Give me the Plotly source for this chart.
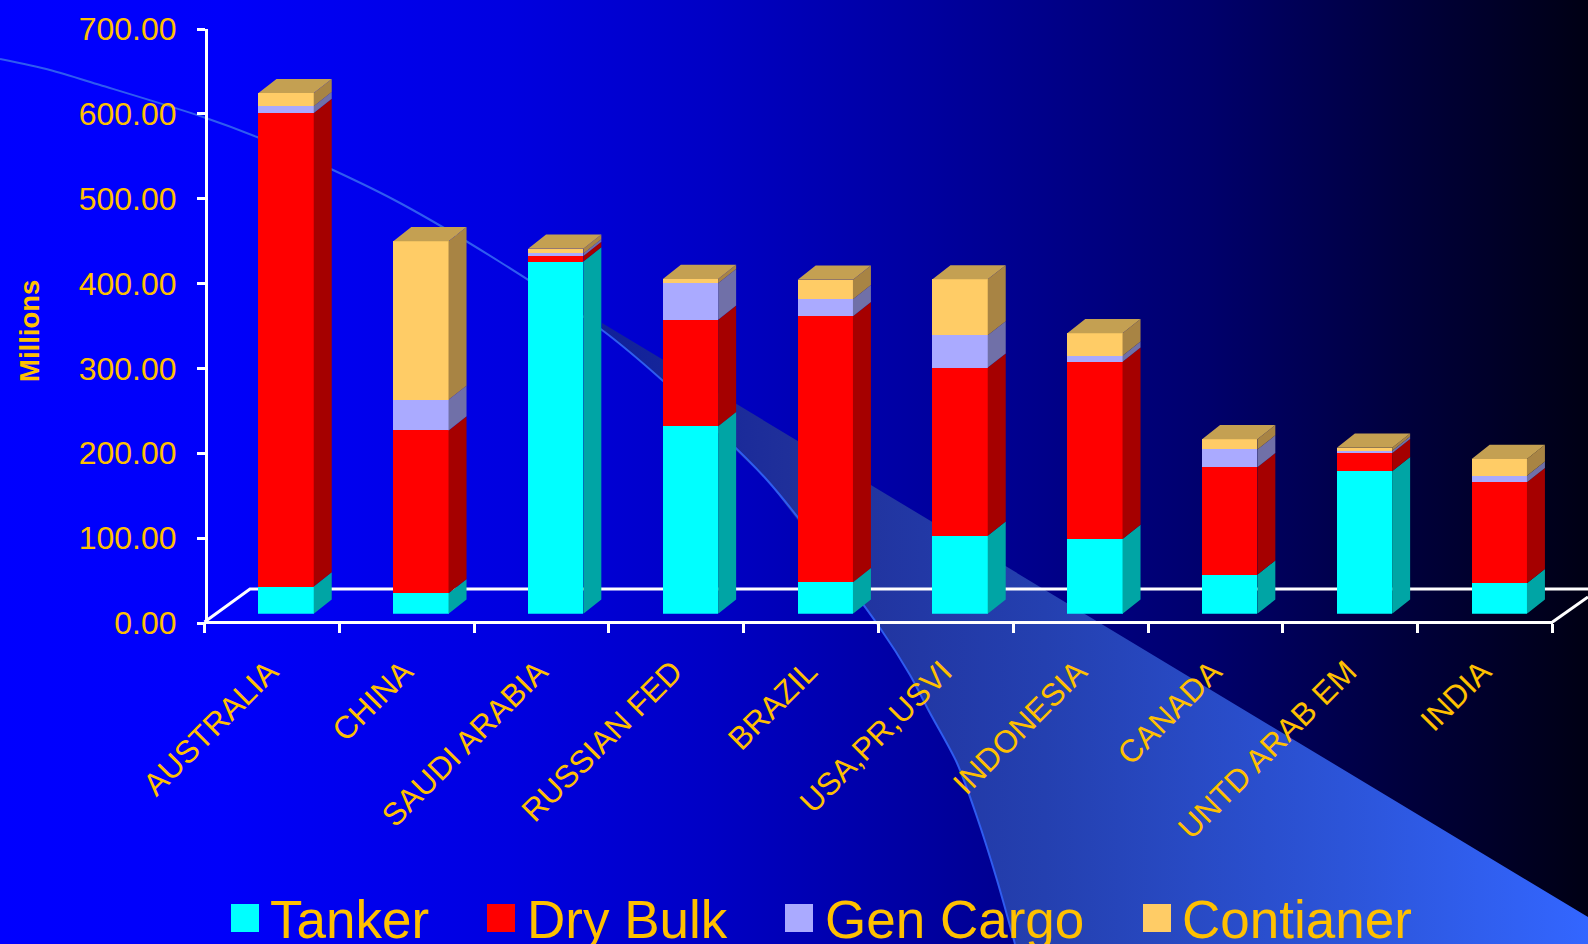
import plotly.graph_objects as go

W, H = 1588, 944

# ---- data (millions) ----
countries = ["AUSTRALIA", "CHINA", "SAUDI ARABIA", "RUSSIAN FED", "BRAZIL",
             "USA,PR,USVI", "INDONESIA", "CANADA", "UNTD ARAB EM", "INDIA"]
tanker = [32, 24, 415, 221, 37, 92, 88, 46, 168, 36]
dry_bulk = [558, 192, 6.5, 125.5, 313.5, 198, 209, 126.5, 21, 119]
gen_cargo = [8, 36, 3, 43, 20, 38, 7, 21, 3, 7.6]
contianer = [15.5, 187, 5.5, 5, 23, 66, 26.5, 12, 3.6, 19.7]
series_names = ["Tanker", "Dry Bulk", "Gen Cargo", "Contianer"]
series_values = [tanker, dry_bulk, gen_cargo, contianer]
front_colors = ["#00FFFF", "#FF0000", "#AAAAFF", "#FFCC66"]
side_colors = ["#00A5A5", "#A50000", "#7070A8", "#A88444"]
top_color = "#C4A052"
gold = "#FFC000"
font_family = "Liberation Sans, Arial, sans-serif"

# ---- page-space decoration (background sweep) ----
sweep_x = [0, 50, 100, 203, 257, 333, 400, 500, 602, 662, 767, 880, 910, 930, 957, 977, 997, 1015]
sweep_y = [59, 70, 85, 117, 137, 170, 203, 262, 330, 380, 480, 628, 675, 713, 763, 817, 880, 944]
legend_swatch_x = [231, 487, 785, 1143]
legend_text_x = [270, 527, 825, 1182]

# ---- plot geometry in pixels ----
AX_L, AX_R, AX_TOP, AX_BOT = 204.5, 1552.5, 29, 623
SHIFT_X, SHIFT_Y = 14.2, 9.3
BAR_W = 0.41
DEPTH_PX_X, DEPTH_PX_Y = 18, 14.2
cat_px = (AX_R - AX_L) / len(countries)
val_px = (AX_BOT - AX_TOP) / 700
dx = DEPTH_PX_X / cat_px
dy = DEPTH_PX_Y / val_px
idx = list(range(len(countries)))

fig = go.Figure()

# --- subplot xy: full-page background in pixel coordinates ---
fig.add_trace(go.Scatter(
    x=[0, W, W, 0, 0], y=[0, 0, H, H, 0], mode="lines", line=dict(width=0),
    fill="toself", hoverinfo="skip", showlegend=False,
    fillgradient=dict(type="horizontal", start=0, stop=W, colorscale=[
        [0, "#0000FF"], [0.14, "#0000FA"], [0.32, "#0000E0"], [0.45, "#0000C4"],
        [0.58, "#0000A0"], [0.76, "#00006C"], [0.88, "#00003E"], [1, "#000014"]]),
))
poly_x = sweep_x[8:] + [W, W, sweep_x[8]]
poly_y = sweep_y[8:] + [H, 917, sweep_y[8] - 7]
fig.add_trace(go.Scatter(
    x=poly_x, y=poly_y, mode="lines", line=dict(width=0), fill="toself",
    hoverinfo="skip", showlegend=False,
    fillgradient=dict(type="horizontal", start=600, stop=1588, colorscale=[
        [0, "#10209A"], [0.2, "#20309A"], [0.45, "#2440B0"], [0.75, "#2C54D8"], [1, "#3366FF"]]),
))
fig.add_trace(go.Scatter(
    x=sweep_x, y=sweep_y, mode="lines", line=dict(color="#2F5CF0", width=2, shape="spline", smoothing=0.8),
    hoverinfo="skip", showlegend=False,
))
# floor outline
fig.add_trace(go.Scatter(
    x=[AX_L, 250, W, None, AX_R, W], y=[AX_BOT - 1, 589, 589, None, AX_BOT - 1, 597],
    mode="lines", line=dict(color="white", width=3), hoverinfo="skip", showlegend=False,
))

# --- subplot x2y2: visible axes ---
fig.add_trace(go.Scatter(
    x=countries, y=[0] * len(countries), xaxis="x2", yaxis="y2", mode="markers",
    marker=dict(opacity=0, size=1), hoverinfo="skip", showlegend=False,
))

# --- subplot x3y3: the bars, set forward on the floor ---
base = [0.0] * len(countries)
for name, vals, fc, sc in zip(series_names, series_values, front_colors, side_colors):
    fig.add_trace(go.Bar(
        x=idx, y=vals, name=name, xaxis="x3", yaxis="y3", width=BAR_W,
        marker=dict(color=fc, line=dict(width=0)), hovertext=countries,
        showlegend=False,
    ))
    sx, sy = [], []
    for i, v in enumerate(vals):
        r = i + BAR_W / 2
        b, t = base[i], base[i] + v
        sx += [r, r, r + dx, r + dx, r, None]
        sy += [b, t, t + dy, b + dy, b, None]
        base[i] = t
    fig.add_trace(go.Scatter(
        x=sx, y=sy, xaxis="x3", yaxis="y3", mode="lines", line=dict(width=0),
        fill="toself", fillcolor=sc, hoverinfo="skip", showlegend=False,
    ))
tx, ty = [], []
for i, t in enumerate(base):
    l, r = i - BAR_W / 2, i + BAR_W / 2
    tx += [l, r, r + dx, l + dx, l, None]
    ty += [t, t, t + dy, t + dy, t, None]
fig.add_trace(go.Scatter(
    x=tx, y=ty, xaxis="x3", yaxis="y3", mode="lines", line=dict(width=0),
    fill="toself", fillcolor=top_color, hoverinfo="skip", showlegend=False,
))

# custom legend with large swatches
shapes, annotations = [], []
for sx0, tx0, name, c in zip(legend_swatch_x, legend_text_x, series_names, front_colors):
    shapes.append(dict(type="rect", xref="x", yref="y", x0=sx0, x1=sx0 + 28, y0=904, y1=932,
                       fillcolor=c, line=dict(width=0), layer="above"))
    annotations.append(dict(text=name, xref="x", yref="y", x=tx0, y=919, xanchor="left",
                            yanchor="middle", showarrow=False, xshift=-2, yshift=0,
                            font=dict(family=font_family, size=53, color=gold)))
annotations.append(dict(text="<b>Millions</b>", xref="x", yref="y", x=29, y=331, textangle=-90,
                        xanchor="center", yanchor="middle", showarrow=False,
                        font=dict(family=font_family, size=27.5, color=gold)))

hidden = dict(visible=False, showgrid=False, zeroline=False, fixedrange=True)
fig.update_layout(
    width=W, height=H, autosize=False, margin=dict(l=0, r=0, t=0, b=0, pad=0),
    paper_bgcolor="#0000FF", plot_bgcolor="rgba(0,0,0,0)",
    barmode="stack", showlegend=False, shapes=shapes, annotations=annotations,
    font=dict(family=font_family, color=gold),
    xaxis=dict(domain=[0, 1], range=[0, W], **hidden),
    yaxis=dict(domain=[0, 1], range=[H, 0], **hidden),
    xaxis2=dict(
        domain=[AX_L / W, AX_R / W], anchor="free", position=1 - (AX_BOT - 1.5) / H,
        type="category", categoryorder="array",
        categoryarray=countries, range=[-0.5, len(countries) - 0.5], tickson="boundaries",
        showline=True, linecolor="white", linewidth=3, ticks="outside", ticklen=9,
        tickwidth=3, tickcolor="white", tickangle=-45, showgrid=False, zeroline=False,
        ticklabelstandoff=17, ticklabelshift=-3,
        tickfont=dict(family=font_family, size=31.5, color=gold), automargin=False, fixedrange=True,
    ),
    yaxis2=dict(
        domain=[1 - AX_BOT / H, 1 - AX_TOP / H], anchor="free", position=(AX_L + 1.5) / W,
        range=[0, 700], dtick=100, tick0=0,
        tickformat=".2f", showline=True, linecolor="white", linewidth=3, ticks="outside", ticklen=8,
        tickwidth=3, tickcolor="white", showgrid=False, zeroline=False, ticklabelstandoff=14,
        tickfont=dict(family=font_family, size=32, color=gold), automargin=False, fixedrange=True,
    ),
    xaxis3=dict(domain=[(AX_L + SHIFT_X) / W, (AX_R + SHIFT_X) / W], anchor="y3",
                range=[-0.5, len(countries) - 0.5], **hidden),
    yaxis3=dict(domain=[1 - (AX_BOT - SHIFT_Y) / H, 1 - (AX_TOP - SHIFT_Y) / H], anchor="x3",
                range=[0, 700], **hidden),
)

fig.write_html("out.html", config=dict(displayModeBar=False),
               post_script="document.body.style.margin='0';document.body.style.overflow='hidden';")
